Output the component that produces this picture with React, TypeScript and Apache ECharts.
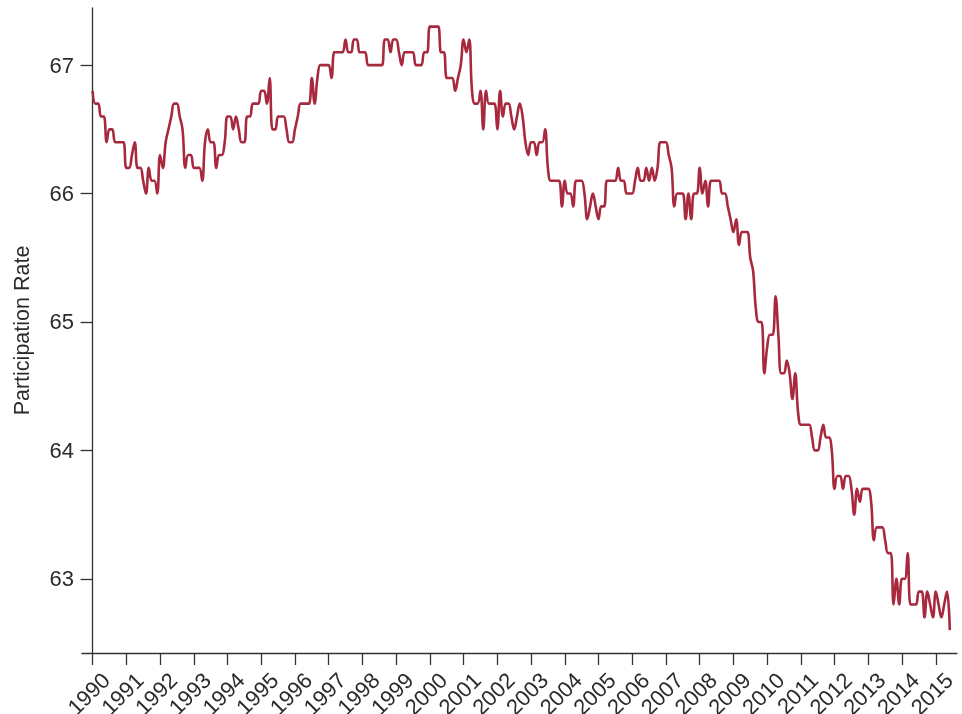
import React, { useEffect, useRef } from "react";
import * as echarts from "echarts";

// Civilian labor force participation rate, monthly, Jan 1990 - Jun 2015
const START_YEAR = 1990;

const tickYears = [
  1990, 1991, 1992, 1993, 1994, 1995, 1996, 1997, 1998, 1999, 2000, 2001, 2002,
  2003, 2004, 2005, 2006, 2007, 2008, 2009, 2010, 2011, 2012, 2013, 2014, 2015,
];

const yTicks = [63, 64, 65, 66, 67];

const rate1990s = [
  // 1990
  66.8, 66.7, 66.7, 66.6, 66.6, 66.4, 66.5, 66.5, 66.4, 66.4, 66.4, 66.4,
  // 1991
  66.2, 66.2, 66.3, 66.4, 66.2, 66.2, 66.1, 66.0, 66.2, 66.1, 66.1, 66.0,
  // 1992
  66.3, 66.2, 66.4, 66.5, 66.6, 66.7, 66.7, 66.6, 66.5, 66.2, 66.3, 66.3,
  // 1993
  66.2, 66.2, 66.2, 66.1, 66.4, 66.5, 66.4, 66.4, 66.2, 66.3, 66.3, 66.4,
  // 1994
  66.6, 66.6, 66.5, 66.6, 66.5, 66.4, 66.4, 66.6, 66.6, 66.7, 66.7, 66.7,
  // 1995
  66.8, 66.8, 66.7, 66.9, 66.5, 66.5, 66.6, 66.6, 66.6, 66.5, 66.4, 66.4,
  // 1996
  66.5, 66.6, 66.7, 66.7, 66.7, 66.7, 66.9, 66.7, 66.9, 67.0, 67.0, 67.0,
  // 1997
  67.0, 66.9, 67.1, 67.1, 67.1, 67.1, 67.2, 67.1, 67.1, 67.2, 67.2, 67.1,
  // 1998
  67.1, 67.1, 67.0, 67.0, 67.0, 67.0, 67.0, 67.0, 67.2, 67.2, 67.1, 67.2,
  // 1999
  67.2, 67.1, 67.0, 67.1, 67.1, 67.1, 67.1, 67.0, 67.0, 67.0, 67.1, 67.1,
];

const rate2000s = [
  // 2000
  67.3, 67.3, 67.3, 67.3, 67.1, 67.1, 66.9, 66.9, 66.9, 66.8, 66.9, 67.0,
  // 2001
  67.2, 67.1, 67.2, 66.8, 66.7, 66.7, 66.8, 66.5, 66.8, 66.7, 66.7, 66.7,
  // 2002
  66.5, 66.8, 66.6, 66.7, 66.7, 66.6, 66.5, 66.6, 66.7, 66.6, 66.4, 66.3,
  // 2003
  66.4, 66.4, 66.3, 66.4, 66.4, 66.5, 66.2, 66.1, 66.1, 66.1, 66.1, 65.9,
  // 2004
  66.1, 66.0, 66.0, 65.9, 66.1, 66.1, 66.1, 66.0, 65.8, 65.9, 66.0, 65.9,
  // 2005
  65.8, 65.9, 65.9, 66.1, 66.1, 66.1, 66.1, 66.2, 66.1, 66.1, 66.0, 66.0,
  // 2006
  66.0, 66.1, 66.2, 66.1, 66.1, 66.2, 66.1, 66.2, 66.1, 66.2, 66.4, 66.4,
  // 2007
  66.4, 66.3, 66.2, 65.9, 66.0, 66.0, 66.0, 65.8, 66.0, 65.8, 66.0, 66.0,
  // 2008
  66.2, 66.0, 66.1, 65.9, 66.1, 66.1, 66.1, 66.1, 66.0, 66.0, 65.9, 65.8,
  // 2009
  65.7, 65.8, 65.6, 65.7, 65.7, 65.7, 65.5, 65.4, 65.1, 65.0, 65.0, 64.6,
];

const rate2010s = [
  // 2010
  64.8, 64.9, 64.9, 65.2, 64.9, 64.6, 64.6, 64.7, 64.6, 64.4, 64.6, 64.3,
  // 2011
  64.2, 64.2, 64.2, 64.2, 64.1, 64.0, 64.0, 64.1, 64.2, 64.1, 64.1, 64.0,
  // 2012
  63.7, 63.8, 63.8, 63.7, 63.8, 63.8, 63.7, 63.5, 63.7, 63.6, 63.7, 63.7,
  // 2013
  63.7, 63.6, 63.3, 63.4, 63.4, 63.4, 63.3, 63.2, 63.2, 62.8, 63.0, 62.8,
  // 2014
  63.0, 63.0, 63.2, 62.8, 62.8, 62.8, 62.9, 62.9, 62.7, 62.9, 62.8, 62.7,
  // 2015
  62.9, 62.8, 62.7, 62.8, 62.9, 62.6,
];

const FONT = "'Liberation Sans', Arial, Helvetica, sans-serif";
const AXIS_COLOR = "#333333";
const TEXT_COLOR = "#2b2b2b";
const LINE_COLOR = "#a8283e";

export default function App() {
  const ref = useRef<HTMLDivElement>(null);

  useEffect(() => {
    if (!ref.current) return;
    const chart = echarts.init(ref.current, null, { renderer: "svg" });
    const rate = [...rate1990s, ...rate2000s, ...rate2010s];
    const data = rate.map((v, i) => [i / 12, v]);
    const xTickValues = tickYears.map((y) => y - START_YEAR);

    chart.setOption({
      animation: false,
      grid: {
        left: 82,
        right: 5,
        top: 8,
        bottom: 61,
        containLabel: false,
        outerBoundsMode: "none",
      },
      xAxis: {
        type: "value",
        min: -0.314,
        max: 25.63,
        axisLine: { show: true, onZero: false, lineStyle: { color: AXIS_COLOR, width: 1.3 } },
        axisTick: {
          show: true,
          length: 12,
          customValues: xTickValues,
          lineStyle: { color: AXIS_COLOR, width: 1.3 },
        },
        axisLabel: {
          customValues: xTickValues,
          formatter: (v: number) => String(Math.round(v) + START_YEAR),
          rotate: 45,
          align: "right",
          verticalAlign: "top",
          padding: [8, 0, 0, 0],
          margin: 10,
          fontSize: 22,
          fontFamily: FONT,
          color: TEXT_COLOR,
        },
        splitLine: { show: false },
      },
      yAxis: {
        type: "value",
        min: 62.422,
        max: 67.445,
        name: "Participation Rate",
        nameLocation: "middle",
        nameGap: 49,
        nameTextStyle: { fontSize: 21.5, fontFamily: FONT, color: TEXT_COLOR },
        axisLine: { show: true, onZero: true, lineStyle: { color: AXIS_COLOR, width: 1.3 } },
        axisTick: {
          show: true,
          length: 12,
          customValues: yTicks,
          lineStyle: { color: AXIS_COLOR, width: 1.3 },
        },
        axisLabel: {
          customValues: yTicks,
          margin: 8,
          fontSize: 22,
          fontFamily: FONT,
          color: TEXT_COLOR,
        },
        splitLine: { show: false },
      },
      series: [
        {
          type: "line",
          data,
          showSymbol: false,
          smooth: 0.4,
          lineStyle: { color: LINE_COLOR, width: 2.6 },
        },
      ],
    });

    return () => chart.dispose();
  }, []);

  return (
    <div
      ref={ref}
      style={{ position: "fixed", left: 0, top: 0, width: 962, height: 714 }}
    />
  );
}
